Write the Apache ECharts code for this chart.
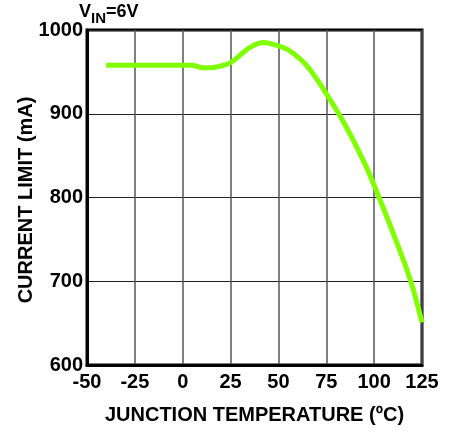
<!DOCTYPE html>
<html><head><meta charset="utf-8">
<script src="https://cdn.jsdelivr.net/npm/echarts@6/dist/echarts.min.js"></script>
<style>html,body{margin:0;padding:0;background:#fff}#c{width:453px;height:433px}</style>
</head><body><div id="c"></div>
<script>
var temps = [-40, -20, 0, 5, 10, 15, 20, 25, 30, 35, 42, 50, 56, 65, 75, 85, 95, 101, 110, 119, 125];
var currents = [958, 958, 958, 958, 955, 955, 957, 961, 970, 979, 985, 981, 975, 957, 924, 886, 841, 809, 757, 701, 651];
var xTicks = [-50, -25, 0, 25, 50, 75, 100, 125];
var yTicks = [600, 700, 800, 900, 1000];
var xTitle = 'JUNCTION TEMPERATURE (ºC)';
var yTitle = 'CURRENT LIMIT (mA)';

var F = 'Liberation Sans, Arial, sans-serif';
var chart = echarts.init(document.getElementById('c'));
chart.setOption({
  animation: false,
  backgroundColor: '#fff',
  grid: {left: 87, top: 30, width: 335, height: 335, show: true, borderColor: '#000', borderWidth: 3, backgroundColor: 'transparent'},
  graphic: [
    {type: 'text', left: 79, top: 3, style: {
      text: '{a|V}{b|IN}{a|=6V}',
      rich: {
        a: {fontFamily: F, fontWeight: 'bold', fontSize: 18, fill: '#000', verticalAlign: 'top', padding: [0,0,4,0]},
        b: {fontFamily: F, fontWeight: 'bold', fontSize: 15, fill: '#000', verticalAlign: 'bottom', padding: [8,0,0,0]}
      }
    }},
    {type: 'text', x: 26, y: 200, rotation: Math.PI/2, style: {
      text: yTitle, fontFamily: F, fontWeight: 'bold', fontSize: 20, fill: '#000', align: 'center', verticalAlign: 'middle'
    }}
  ],
  xAxis: {
    type: 'value', min: xTicks[0], max: xTicks[xTicks.length-1], interval: 25,
    name: xTitle, nameLocation: 'middle', nameGap: 40,
    nameTextStyle: {fontFamily: F, fontWeight: 'bold', fontSize: 20, color: '#000'},
    axisLine: {onZero: false, lineStyle: {color: '#000', width: 3}},
    axisTick: {show: false},
    axisLabel: {fontFamily: F, fontWeight: 'bold', fontSize: 20, color: '#000', margin: 7},
    splitLine: {show: true, lineStyle: {color: '#555', width: 1.5}}
  },
  yAxis: {
    type: 'value', min: yTicks[0], max: yTicks[yTicks.length-1], interval: 100,
    axisLine: {show: true, onZero: false, lineStyle: {color: '#000', width: 3}},
    axisTick: {show: false},
    axisLabel: {fontFamily: F, fontWeight: 'bold', fontSize: 20, color: '#000', margin: 4,
      formatter: function(v){ return String(v); }},
    splitLine: {show: true, lineStyle: {color: '#222', width: 1.2}}
  },
  series: [{
    type: 'line', smooth: 0.35, symbol: 'none',
    data: temps.map(function(t, i){ return [t, currents[i]]; }),
    lineStyle: {color: '#80ff00', width: 5}
  }]
});
</script></body></html>
